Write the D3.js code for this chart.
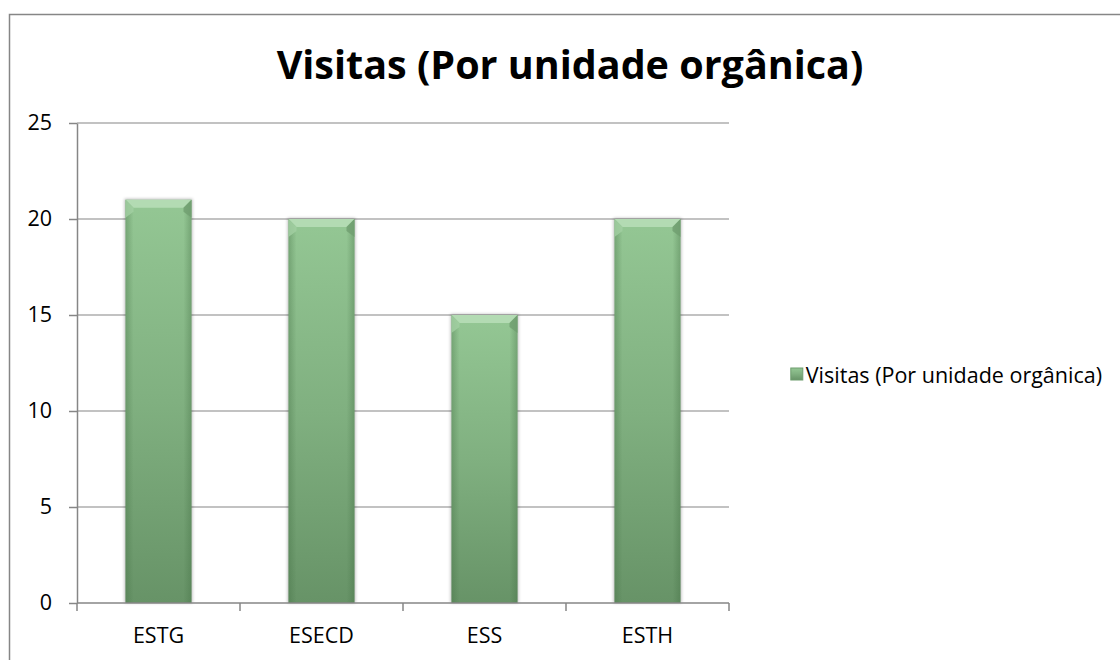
<!DOCTYPE html>
<html>
<head>
<meta charset="utf-8">
<script src="https://cdn.jsdelivr.net/npm/d3@7"></script>
<style>
  html, body { margin: 0; padding: 0; background: #fff; }
  svg { display: block; font-family: "Open Sans", sans-serif; }
</style>
</head>
<body>
<div id="chart"></div>
<script>
// chart data
const categories = ["ESTG", "ESECD", "ESS", "ESTH"];
const visitas = [21, 20, 15, 20];
const yTicks = [0, 5, 10, 15, 20, 25];
const seriesName = "Visitas (Por unidade orgânica)";
const chartTitle = "Visitas (Por unidade orgânica)";

const width = 1120, height = 660;
const margin = { top: 123, right: 391, bottom: 57, left: 77 };
const innerW = width - margin.left - margin.right;
const innerH = height - margin.top - margin.bottom;
const gray = "#868686";

const svg = d3.select("#chart").append("svg")
    .attr("width", width)
    .attr("height", height);

// gradients for the bevelled bars
const defs = svg.append("defs");
const vGrad = defs.append("linearGradient")
    .attr("id", "barFill").attr("x1", 0).attr("y1", 0).attr("x2", 0).attr("y2", 1);
vGrad.append("stop").attr("offset", "0%").attr("stop-color", "#94c794");
vGrad.append("stop").attr("offset", "50%").attr("stop-color", "#80b080");
vGrad.append("stop").attr("offset", "100%").attr("stop-color", "#679367");

const hGrad = defs.append("linearGradient")
    .attr("id", "barSides").attr("x1", 0).attr("y1", 0).attr("x2", 1).attr("y2", 0);
hGrad.append("stop").attr("offset", "0%").attr("stop-color", "#3f6b3f").attr("stop-opacity", 0.35);
hGrad.append("stop").attr("offset", "12%").attr("stop-color", "#3f6b3f").attr("stop-opacity", 0);
hGrad.append("stop").attr("offset", "88%").attr("stop-color", "#3f6b3f").attr("stop-opacity", 0);
hGrad.append("stop").attr("offset", "100%").attr("stop-color", "#3f6b3f").attr("stop-opacity", 0.35);

const blur = defs.append("filter").attr("id", "shadow")
    .attr("x", "-20%").attr("y", "-5%").attr("width", "140%").attr("height", "110%");
blur.append("feGaussianBlur").attr("stdDeviation", 1.5);

// outer chart border (runs past the right and bottom edges)
svg.append("rect")
    .attr("x", 9.5).attr("y", 14.5)
    .attr("width", 1200).attr("height", 700)
    .attr("fill", "none")
    .attr("stroke", gray)
    .attr("stroke-width", 1.5);

// title
svg.append("text")
    .attr("x", 570)
    .attr("y", 79)
    .attr("text-anchor", "middle")
    .attr("font-size", 39.5)
    .attr("font-weight", "bold")
    .attr("fill", "#000")
    .text(chartTitle);

// scales
const x = d3.scaleBand()
    .domain(categories)
    .range([0, innerW])
    .padding(0);

const y = d3.scaleLinear()
    .domain([0, 25])
    .range([innerH, 0]);

const g = svg.append("g")
    .attr("transform", `translate(${margin.left},${margin.top})`);

// gridlines
g.append("g")
    .selectAll("line")
    .data(yTicks.filter(d => d > 0))
    .join("line")
    .attr("x1", 0).attr("x2", innerW)
    .attr("y1", d => y(d)).attr("y2", d => y(d))
    .attr("stroke", gray)
    .attr("stroke-width", 1.2);

// bars (gap width 150%)
const barW = x.bandwidth() / 2.47;
const bev = 8;
const bars = g.append("g")
    .selectAll("g")
    .data(categories.map((c, i) => ({ cat: c, value: visitas[i] })))
    .join("g")
    .attr("transform", d => `translate(${x(d.cat) + (x.bandwidth() - barW) / 2},${y(d.value)})`);

bars.append("rect")
    .attr("x", -1).attr("y", -1)
    .attr("width", barW + 2)
    .attr("height", d => innerH - y(d.value) + 1)
    .attr("fill", "#000")
    .attr("opacity", 0.25)
    .attr("filter", "url(#shadow)");

bars.append("rect")
    .attr("width", barW)
    .attr("height", d => innerH - y(d.value))
    .attr("fill", "url(#barFill)");

bars.append("rect")
    .attr("width", barW)
    .attr("height", d => innerH - y(d.value))
    .attr("fill", "url(#barSides)");

// top bevel highlight
bars.append("path")
    .attr("d", `M0,0 L${barW},0 L${barW - bev},${bev} L${bev},${bev} Z`)
    .attr("fill", "#b3dbb3");

// left and right bevel faces near the top
bars.append("path")
    .attr("d", `M0,0 L${bev},${bev} L${bev},${bev + 4} L0,${bev + 10} Z`)
    .attr("fill", "#a3cfa3")
    .attr("opacity", 0.8);
bars.append("path")
    .attr("d", `M${barW},0 L${barW - bev},${bev} L${barW - bev},${bev + 4} L${barW},${bev + 10} Z`)
    .attr("fill", "#6f9d6f")
    .attr("opacity", 0.8);

// y axis
const yAxis = g.append("g")
    .call(d3.axisLeft(y).tickValues(yTicks).tickSize(8).tickPadding(17).tickSizeOuter(0));
yAxis.select(".domain").attr("stroke", gray).attr("stroke-width", 1.5);
yAxis.selectAll(".tick line").attr("stroke", gray).attr("stroke-width", 1.5);
yAxis.selectAll(".tick text")
    .attr("font-size", 21.5)
    .attr("font-family", "Open Sans, sans-serif")
    .attr("fill", "#000");

// x axis: ticks sit on the band boundaries
const xAxis = g.append("g")
    .attr("transform", `translate(0,${innerH})`);
xAxis.append("line")
    .attr("x1", 0).attr("x2", innerW)
    .attr("stroke", gray).attr("stroke-width", 1.5);
xAxis.selectAll(".bound")
    .data(categories.map(c => x(c)).concat([innerW]))
    .join("line")
    .attr("class", "bound")
    .attr("x1", d => d).attr("x2", d => d)
    .attr("y1", 0).attr("y2", 8)
    .attr("stroke", gray).attr("stroke-width", 1.5);
xAxis.selectAll(".cat")
    .data(categories)
    .join("text")
    .attr("class", "cat")
    .attr("x", d => x(d) + x.bandwidth() / 2)
    .attr("y", 40)
    .attr("text-anchor", "middle")
    .attr("font-size", 21.5)
    .attr("fill", "#000")
    .text(d => d);

// legend
const legend = svg.append("g");
const legText = legend.append("text")
    .attr("x", 1102)
    .attr("y", 383)
    .attr("text-anchor", "end")
    .attr("font-size", 21.5)
    .attr("fill", "#000")
    .text(seriesName);
const textW = legText.node().getComputedTextLength();
const markX = 1102 - textW - 15;
legend.append("rect")
    .attr("x", markX).attr("y", 368)
    .attr("width", 12).attr("height", 12)
    .attr("fill", "url(#barFill)")
    .attr("stroke", "#6f9d6f")
    .attr("stroke-width", 1);
</script>
</body>
</html>
